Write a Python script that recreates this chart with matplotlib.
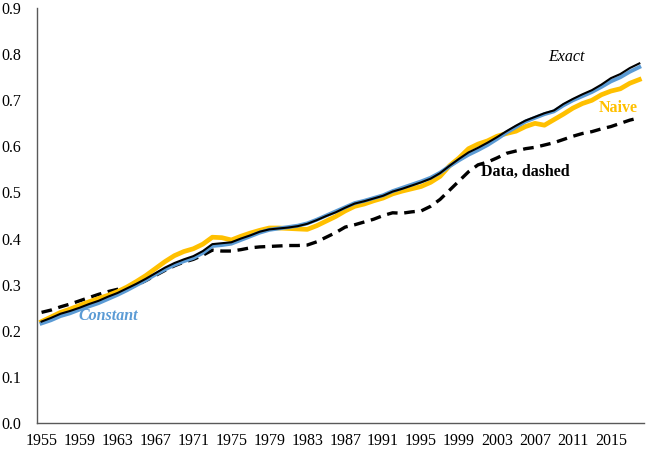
import numpy as np
import matplotlib
matplotlib.use('Agg')
import matplotlib.pyplot as plt

years = list(range(1955, 2019))

data = [0.240, 0.245, 0.252, 0.258, 0.265, 0.272, 0.279, 0.285, 0.290, 0.292,
        0.299, 0.309, 0.320, 0.331, 0.341, 0.349, 0.355, 0.364, 0.375, 0.373,
        0.373, 0.376, 0.380, 0.382, 0.383, 0.384, 0.385, 0.385, 0.386, 0.393,
        0.403, 0.413, 0.425, 0.430, 0.436, 0.442, 0.450, 0.456, 0.455, 0.458,
        0.460, 0.470, 0.485, 0.505, 0.525, 0.545, 0.560, 0.566, 0.575, 0.585,
        0.590, 0.595, 0.598, 0.603, 0.608, 0.615, 0.622, 0.628, 0.632, 0.638,
        0.643, 0.650, 0.657, 0.662]

exact = [0.220, 0.228, 0.237, 0.243, 0.250, 0.258, 0.265, 0.274, 0.282, 0.292,
         0.302, 0.313, 0.325, 0.337, 0.347, 0.355, 0.362, 0.373, 0.388, 0.390,
         0.392, 0.400, 0.407, 0.415, 0.420, 0.422, 0.424, 0.427, 0.432, 0.440,
         0.449, 0.457, 0.467, 0.476, 0.481, 0.487, 0.493, 0.502, 0.508, 0.515,
         0.522, 0.530, 0.542, 0.558, 0.573, 0.587, 0.597, 0.608, 0.620, 0.633,
         0.645, 0.656, 0.664, 0.672, 0.678, 0.692, 0.703, 0.713, 0.722, 0.734,
         0.748, 0.757, 0.770, 0.780]

constant = [0.216, 0.223, 0.232, 0.238, 0.246, 0.253, 0.260, 0.269, 0.278, 0.288,
            0.299, 0.310, 0.322, 0.333, 0.343, 0.351, 0.358, 0.369, 0.384, 0.386,
            0.389, 0.397, 0.405, 0.413, 0.419, 0.422, 0.425, 0.428, 0.433, 0.441,
            0.450, 0.459, 0.468, 0.477, 0.482, 0.488, 0.494, 0.503, 0.510, 0.517,
            0.524, 0.532, 0.543, 0.557, 0.570, 0.582, 0.592, 0.603, 0.616, 0.630,
            0.642, 0.654, 0.662, 0.670, 0.676, 0.689, 0.700, 0.709, 0.718, 0.729,
            0.741, 0.750, 0.762, 0.772]

naive = [0.220, 0.230, 0.240, 0.247, 0.255, 0.263, 0.270, 0.277, 0.285, 0.295,
         0.307, 0.320, 0.335, 0.350, 0.363, 0.372, 0.378, 0.388, 0.403, 0.402,
         0.397, 0.405, 0.412, 0.418, 0.423, 0.423, 0.422, 0.421, 0.420, 0.428,
         0.438, 0.448, 0.460, 0.470, 0.475, 0.482, 0.488, 0.497, 0.503, 0.508,
         0.513, 0.522, 0.535, 0.558, 0.575, 0.595, 0.605, 0.612, 0.622, 0.628,
         0.633, 0.643, 0.650, 0.646, 0.658, 0.670, 0.683, 0.693, 0.700, 0.712,
         0.720, 0.725, 0.737, 0.745]

plt.rcParams['font.family'] = ['Liberation Serif', 'DejaVu Serif']

fig = plt.figure(figsize=(6.46, 4.5), dpi=100)
ax = fig.add_axes([0.057, 0.06, 0.94, 0.922])

# draw order: data dashed under the model lines
ax.plot(years, data, color='black', lw=2.4, ls=(0, (3.2, 2.0)))
ax.plot(years, naive, color='#FFC000', lw=3.4, solid_joinstyle='round')
ax.plot(years, constant, color='#5B9BD5', lw=2.8, solid_joinstyle='round')
ax.plot(years, exact, color='black', lw=1.5, solid_joinstyle='round')

ax.text(2010.3, 0.794, 'Exact', style='italic', fontsize=11.5, ha='center', va='center')
ax.text(2015.8, 0.683, 'Naive', color='#FFC000', fontweight='bold', fontsize=11.5, ha='center', va='center')
ax.text(2006.0, 0.544, 'Data, dashed', fontweight='bold', fontsize=11.5, ha='center', va='center')
ax.text(1962.0, 0.232, 'Constant', color='#5B9BD5', style='italic', fontweight='bold', fontsize=11.5, ha='center', va='center')

ax.set_xlim(1954.5, 2018.5)
ax.set_ylim(0, 0.9)
ax.set_xticks(range(1955, 2019, 4))
ax.set_yticks(np.arange(0, 0.91, 0.1))
ax.set_yticklabels([f'{v:.1f}' for v in np.arange(0, 0.91, 0.1)])
ax.tick_params(length=0, labelsize=11.5)
ax.tick_params(axis='x', pad=7)
ax.tick_params(axis='y', pad=11)
for s in ['top', 'right']:
    ax.spines[s].set_visible(False)
for s in ['left', 'bottom']:
    ax.spines[s].set_color('#595959')
    ax.spines[s].set_linewidth(1.0)

fig.savefig('out.png', dpi=100)
